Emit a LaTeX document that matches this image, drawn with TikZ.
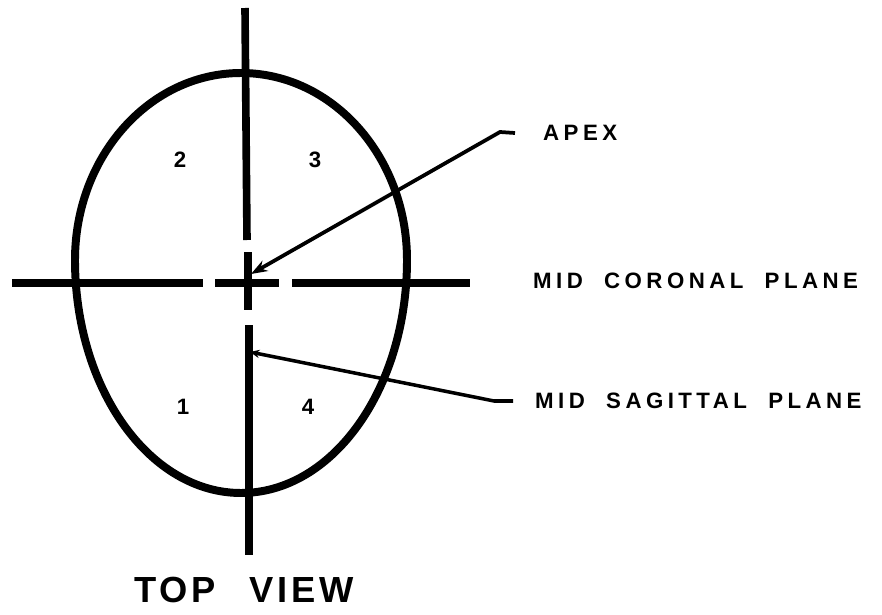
\documentclass[tikz,border=0pt]{standalone}
\usepackage{fontspec}
\newfontfamily\lblfont[LetterSpace=20,WordSpace=2]{Liberation Sans}
\newfontfamily\titlefont[LetterSpace=10,WordSpace=2.5]{Liberation Sans}
\usetikzlibrary{arrows.meta, positioning}

\begin{document}
\begin{tikzpicture}[
        x=0.03cm, y=-0.03cm,
        rim/.style={line width=6.8pt},
        plane/.style={line width=6.5pt},
        pointer/.style={line width=3.2pt, -{Stealth[length=14pt, width=10pt]}},
        smallpointer/.style={line width=3pt, -{Stealth[length=8pt, width=7pt]}},
        lbl/.style={font=\lblfont\bfseries\fontsize{19}{22}\selectfont, inner sep=0pt, anchor=west},
        quad/.style={font=\lblfont\bfseries\fontsize{19}{22}\selectfont, inner sep=0pt}
    ]
        \useasboundingbox (0,0) rectangle (882,615);

        % Head outline (egg shaped)
        \draw[rim] (75,260) arc[start angle=180, end angle=360, x radius=166, y radius=187]
                            arc[start angle=0, end angle=180, x radius=166, y radius=233];

        % Mid sagittal plane
        \draw[plane] (245,8) -- (247,240);
        \draw[plane] (248,252) -- (248,310);
        \draw[plane] (249,325) -- (249,555);

        % Mid coronal plane
        \draw[plane] (12,283) -- (203,283);
        \draw[plane] (215,283) -- (279,283);
        \draw[plane] (292,283) -- (470,283);

        % Quadrants
        \node[quad] (q2) at (180,160) {2};
        \node[quad] (q3) at (315,160) {3};
        \node[quad] (q1) at (183,407) {1};
        \node[quad] (q4) at (308,407) {4};

        % Labels
        \node[lbl] (apex) at (543,133) {APEX};
        \node[lbl] (coronal) at (533,281) {MID CORONAL PLANE};
        \node[lbl] (sagittal) at (535,401) {MID SAGITTAL PLANE};
        \node[font=\titlefont\bfseries\fontsize{31}{36}\selectfont, inner sep=0pt] (title) at (244,590) {TOP VIEW};

        % Pointers
        \coordinate (apextail) at (515,133);
        \coordinate (apexknee) at (500,132);
        \coordinate (apextip) at (251,274);
        \coordinate (sagtail) at (513,401);
        \coordinate (sagknee) at (494,401);
        \coordinate (sagtip) at (250,352);
        \draw[pointer] (apextail) -- (apexknee) -- (apextip);
        \draw[smallpointer] (sagtail) -- (sagknee) -- (sagtip);
    \end{tikzpicture}
\end{document}
